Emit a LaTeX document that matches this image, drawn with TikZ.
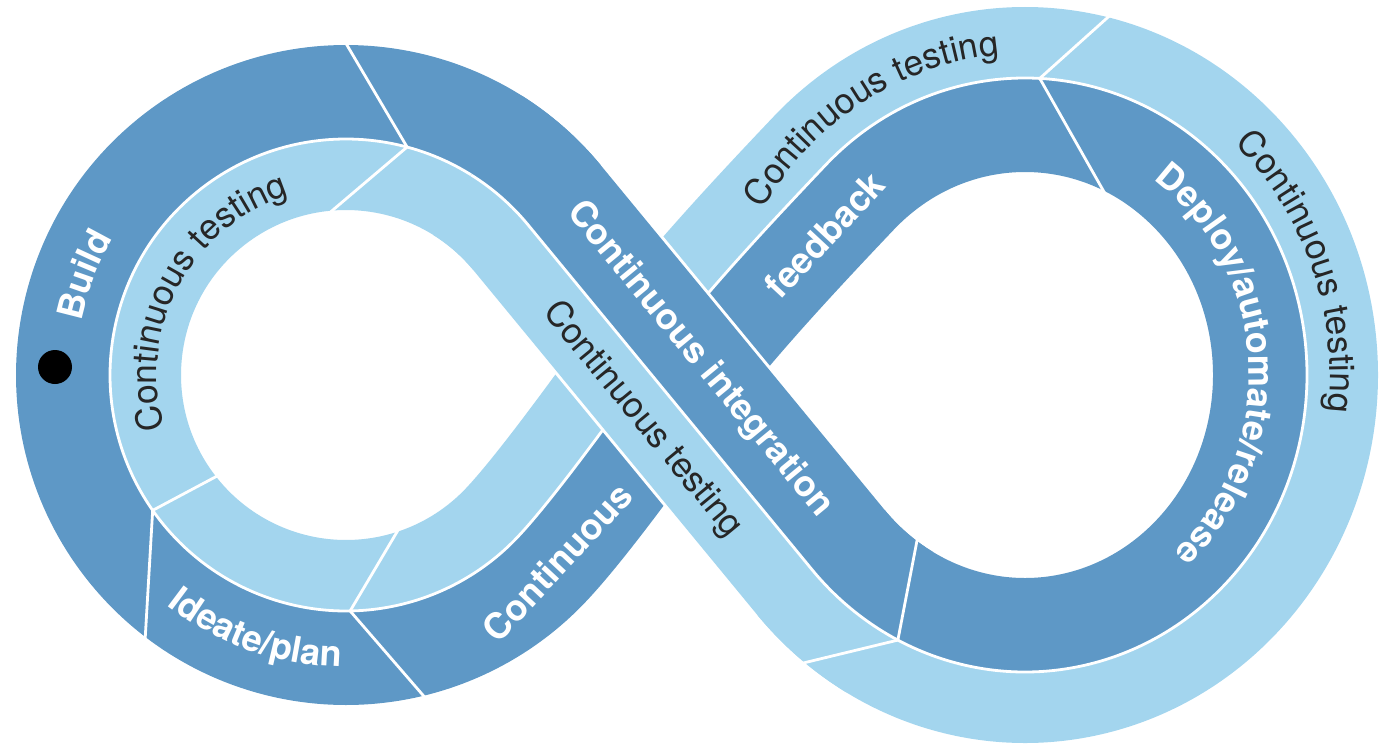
\documentclass[tikz,border=0pt]{standalone}
\usepackage{fontspec}
\setmainfont{TeX Gyre Heros}
\usetikzlibrary{calc,decorations.text}
\definecolor{darkblue}{RGB}{94,152,198}
\definecolor{lightblue}{RGB}{163,213,238}
\definecolor{txt}{RGB}{38,38,38}
\newcommand\bwf{\color{white}\bfseries\fontsize{36}{43}\selectfont}
\newcommand\ctf{\color{txt}\fontsize{35.5}{43}\selectfont}
\tikzset{
  sep/.style={white, line width=2.8pt},
  onpath/.style={decorate, decoration={text along path, text align=center, text={#1}}},
  boldlbl/.style={text=white, font=\bfseries\fontsize{36}{43}\selectfont, inner sep=0pt},
  ctlbl/.style={text=txt, font=\fontsize{35.5}{43}\selectfont, inner sep=0pt},
}
\begin{document}
\begin{tikzpicture}[x=1pt,y=1pt]
\useasboundingbox (0,0) rectangle (1386,-744);
% geometry: left circle, right ellipse, joined by two strands
\coordinate (CL) at (346,-375);
\coordinate (CR) at (1025,-375);
\coordinate (T1L) at ($(CL)+(39.46:236)$);
\coordinate (T1R) at ($(CR)+(-139.07:282 and 297)$);
\coordinate (X) at ($(T1L)!0.4187!(T1R)$);
\coordinate (T2L) at ($(CL)+(-45:236)$);
\coordinate (T2R) at ($(CR)+(135:282 and 297)$);
\coordinate (c1B) at ($(T2L)+(45:50)$);
\coordinate (c2B) at ($(X)+(234:55)$);
\coordinate (c1C) at ($(X)+(54:80)$);
\coordinate (c2C) at ($(T2R)+(226.48:80)$);
\coordinate (E1) at ($(CR)+(-120:282 and 297)$);
\def\Lpath{(X) -- (T1L) arc[start angle=39.46,end angle=315,radius=236] .. controls (c1B) and (c2B) .. (X)}
\def\Rpath{(X) .. controls (c1C) and (c2C) .. (T2R) arc[start angle=135,end angle=-139.07,x radius=282,y radius=297] -- (X)}
\def\Slong{(E1) arc[start angle=-120,end angle=-139.07,x radius=282,y radius=297] -- (T1L) arc[start angle=39.46,end angle=58,radius=236]}
% left loop: dark outside, light inside
\begin{scope}
  \clip (0,0) -- (640,0) -- (620.8,-148.7) -- (T1L) -- (T1R) -- (719.3,-645.9) -- (715,-744) -- (0,-744) -- cycle;
  \draw[darkblue, line width=188pt] \Lpath;
  \begin{scope}
    \clip \Lpath -- cycle;
    \fill[white] (0,0) rectangle (1386,-744);
    \draw[lightblue, line width=142pt] \Lpath;
  \end{scope}
\end{scope}
% right loop: light outside, dark inside
\begin{scope}
  \clip (640,0) -- (620.8,-148.7) -- (T1L) -- (T1R) -- (719.3,-645.9) -- (715,-744) -- (1386,-744) -- (1386,0) -- cycle;
  \draw[lightblue, line width=142pt] \Rpath;
  \begin{scope}
    \clip \Rpath -- cycle;
    \fill[white] (0,0) rectangle (1386,-744);
    \draw[darkblue, line width=188pt] \Rpath;
  \end{scope}
\end{scope}
% lane separator
\draw[sep] \Lpath;
\draw[sep] \Rpath;
% strand lying on top at the crossing, with white borders
\begin{scope}
  \clip \Slong -- (603.6,37.1) -- (1014,-418.7) -- cycle;
  \draw[white, line width=194pt] (T1R) -- (T1L);
  \draw[darkblue, line width=188pt] \Slong;
\end{scope}
\begin{scope}
  \clip \Slong -- (338.6,-386.9) -- (754,-845.7) -- cycle;
  \draw[white, line width=148pt] (T1R) -- (T1L);
  \draw[lightblue, line width=142pt] \Slong;
\end{scope}
\draw[sep] \Slong;
% dividers
\coordinate (J1) at ($(CL)+(75:236)$);
\coordinate (J3) at ($(CL)+(215:236)$);
\coordinate (J5) at ($(CL)+(271:236)$);
\coordinate (J7) at ($(CR)+(87:282 and 297)$);
\coordinate (J9) at ($(CR)+(-116.8:282 and 297)$);
\coordinate (dv1) at (341,-35);
\coordinate (dv2) at (327,-215);
\coordinate (dv3) at (220,-474.5);
\coordinate (dv4) at (144.5,-650);
\coordinate (dv5) at (428,-701);
\coordinate (dv6) at (407,-515);
\coordinate (dv7) at (1116,-10);
\coordinate (dv8) at (1112,-206);
\coordinate (dv9) at (920,-525);
\coordinate (dv10) at (795,-665);
\draw[sep] (J1) -- (dv1);
\draw[sep] (J1) -- (dv2);
\draw[sep] (J3) -- (dv3);
\draw[sep] (J3) -- (dv4);
\draw[sep] (J5) -- (dv5);
\draw[sep] (J5) -- (dv6);
\draw[sep] (J7) -- (dv7);
\draw[sep] (J7) -- (dv8);
\draw[sep] (J9) -- (dv9);
\draw[sep] (J9) -- (dv10);
% labels along the loops
\path[onpath={|\bwf|Build}] ($(CL)+(200:270)$) arc[start angle=200,end angle=118,radius=270];
\path[onpath={|\ctf|Continuous testing}] ($(CL)+(212:189)$) arc[start angle=212,end angle=92,radius=189];
\path[onpath={|\bwf|Ideate/plan}] ($(CL)+(210.6:292)$) arc[start angle=210.6,end angle=290.6,radius=292];
\path[onpath={|\ctf|Continuous testing}] ($(CR)+(166.5:306 and 321)$) arc[start angle=166.5,end angle=76.5,x radius=306,y radius=321];
\path[onpath={|\bwf|Deploy/automate/release}] ($(CR)+(73.4:224 and 238)$) arc[start angle=73.4,end angle=-66.6,x radius=224,y radius=238];
\path[onpath={|\ctf|Continuous testing}] ($(CR)+(70.25:305 and 318)$) arc[start angle=70.25,end angle=-29.75,x radius=305,y radius=318];
% straight labels
\node[boldlbl, rotate=47] (tcont) at (557,-562) {Continuous};
\node[ctlbl, rotate=-50.54] (tct) at (642.5,-419.8) {Continuous testing};
\node[boldlbl, rotate=-50.54] (tci) at (699.6,-359.2) {Continuous integration};
\node[boldlbl, rotate=47] (tfb) at (824.7,-234.6) {feedback};
% start dot
\node[circle, fill=black, minimum size=34pt, inner sep=0pt] (dot) at (55,-367) {};
\end{tikzpicture}
\end{document}
